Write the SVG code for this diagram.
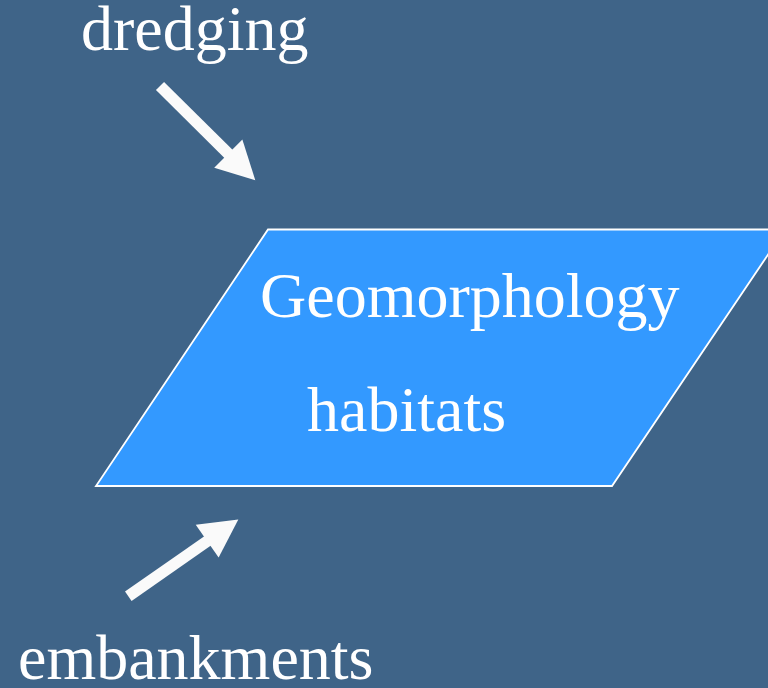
<svg xmlns="http://www.w3.org/2000/svg" width="768" height="688" viewBox="0 0 768 688">
  <defs>
    <style>
      .lbl { font-family: "Liberation Serif", "Times New Roman", serif; font-size: 64px; fill: #FFFFFF; }
      .arrow { stroke: #FAFAFA; stroke-width: 11.5; fill: none; marker-end: url(#head); }
    </style>
    <marker id="head" viewBox="0 0 38 40" refX="1" refY="20" markerWidth="38" markerHeight="40" markerUnits="userSpaceOnUse" orient="auto" overflow="visible">
      <path d="M0,0 L38,20 L0,40 z" fill="#FAFAFA"/>
    </marker>
  </defs>
  <rect x="0" y="0" width="768" height="688" fill="#3F6488"/>

  <g id="geomorphology">
    <polygon points="268,229.5 785,229.5 612,486 96,486" fill="#3399FF" stroke="#FFFFFF" stroke-width="1.8"/>
    <text class="lbl" x="260" y="317">Geomorphology</text>
    <text class="lbl" x="307" y="431">habitats</text>
  </g>

  <g id="dredging">
    <text class="lbl" x="81" y="50">dredging</text>
  </g>

  <g id="embankments">
    <text class="lbl" x="18" y="679">embankments</text>
  </g>

  <g id="connectors">
    <line class="arrow" x1="160" y1="86" x2="229" y2="154.3"/>
    <line class="arrow" x1="128.3" y1="596.3" x2="208" y2="540.6"/>
  </g>
</svg>
